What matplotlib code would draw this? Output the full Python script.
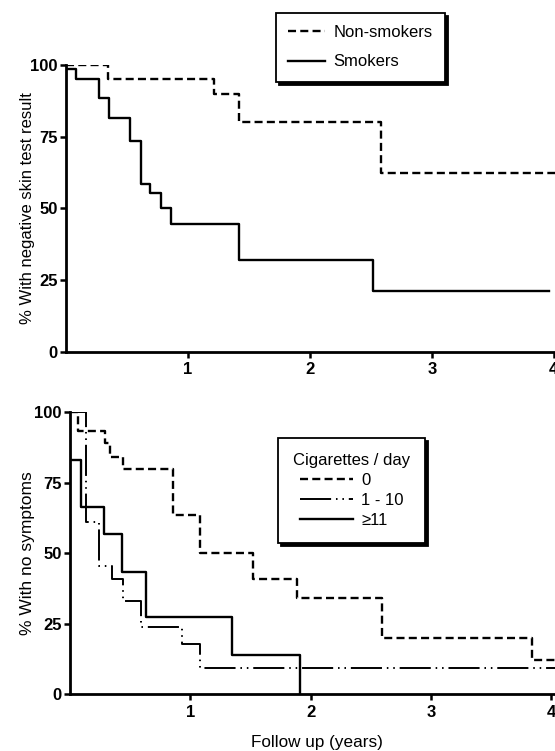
import matplotlib
matplotlib.use('Agg')
import matplotlib.pyplot as plt
import numpy as np

plt.rcParams['font.family'] = ['Liberation Sans', 'DejaVu Sans']

# top panel: skin test result (years, % negative)
nonsmoker_t = [0, 0.34, 1.21, 1.42, 2.58, 4.05]
nonsmoker_v = [100, 95, 90, 80, 62.5, 62.5]
smoker_t = [0, 0.08, 0.27, 0.35, 0.525, 0.615, 0.69, 0.78, 0.86, 1.42, 2.52, 3.96]
smoker_v = [98.5, 95, 88.5, 81.5, 73.5, 58.5, 55.5, 50, 44.5, 32, 21, 21]

# bottom panel: symptoms by cigarettes / day
zero_t = [0, 0.07, 0.29, 0.33, 0.44, 0.86, 1.08, 1.52, 1.89, 2.59, 3.84, 4.05]
zero_v = [100, 93.5, 89, 84, 80, 63.5, 50, 41, 34, 20, 12, 12]
light_t = [0, 0.135, 0.24, 0.35, 0.44, 0.59, 0.93, 1.08, 4.05]
light_v = [100, 61, 45.5, 41, 33, 24, 18, 9.5, 9.5]
heavy_t = [0, 0.09, 0.286, 0.43, 0.63, 1.35, 1.91]
heavy_v = [83, 66.5, 57, 43.5, 27.5, 14, 0]

yticks = [0, 25, 50, 75, 100]
xticks = [1, 2, 3, 4]

dash = (0, (3.4, 1.8))
dashdotdot = (0, (16, 2.5, 0.8, 2.5, 0.8, 2.5))
lw = 1.7

fig = plt.figure(figsize=(5.55, 7.51), dpi=100)
ax1 = fig.add_axes([0.119, 0.5317, 0.881, 0.3817])
ax2 = fig.add_axes([0.126, 0.0755, 0.874, 0.3755])


def style_axes(ax, xmax):
    ax.set_xlim(0, xmax)
    ax.set_ylim(0, 100)
    for s in ['top', 'right']:
        ax.spines[s].set_visible(False)
    for s in ['left', 'bottom']:
        ax.spines[s].set_linewidth(2.0)
    ax.set_yticks(yticks)
    ax.set_xticks(xticks)
    ax.tick_params(axis='y', direction='out', length=4.5, width=1.8, pad=1.5,
                   labelsize=12)
    ax.tick_params(axis='x', direction='out', length=4.5, width=1.8, pad=3,
                   labelsize=12)
    for lab in ax.get_xticklabels() + ax.get_yticklabels():
        lab.set_fontweight('bold')


style_axes(ax1, 4.01)
ax1.step(nonsmoker_t, nonsmoker_v, where='post', color='k', lw=lw,
         linestyle=dash, label='Non-smokers')
ax1.step(smoker_t, smoker_v, where='post', color='k', lw=lw,
         label='Smokers')
ax1.set_ylabel('% With negative skin test result', fontsize=12)
ax1.yaxis.set_label_coords(-0.064, 0.5)
leg1 = ax1.legend(loc='upper left', bbox_to_anchor=(0.497, 0.983),
                  bbox_transform=fig.transFigure, fontsize=12,
                  fancybox=False, edgecolor='k', framealpha=1,
                  shadow={'color': 'k', 'alpha': 1},
                  handlelength=2.2, handletextpad=0.5, labelspacing=0.85,
                  borderpad=0.75, borderaxespad=0)
leg1.get_frame().set_linewidth(1.3)

style_axes(ax2, 4.03)
ax2.step(zero_t, zero_v, where='post', color='k', lw=lw,
         linestyle=dash, label='0')
ax2.step(light_t, light_v, where='post', color='k', lw=1.4,
         linestyle=dashdotdot, label='1 - 10')
ax2.step(heavy_t, heavy_v, where='post', color='k', lw=lw,
         label='\u226511')
ax2.set_ylabel('% With no symptoms', fontsize=12.5)
ax2.yaxis.set_label_coords(-0.071, 0.5)
ax2.set_xlabel('Follow up (years)', fontsize=12.3)
ax2.xaxis.set_label_coords(0.51, -0.145)
leg2 = ax2.legend(loc='upper left', bbox_to_anchor=(0.501, 0.417),
                  bbox_transform=fig.transFigure, fontsize=12,
                  title='Cigarettes / day', title_fontsize=12,
                  fancybox=False, edgecolor='k', framealpha=1,
                  shadow={'color': 'k', 'alpha': 1},
                  handlelength=3.2, handletextpad=0.5, labelspacing=0.3,
                  borderpad=0.9, borderaxespad=0)
leg2.get_frame().set_linewidth(1.3)

fig.savefig('out.png', dpi=100)
